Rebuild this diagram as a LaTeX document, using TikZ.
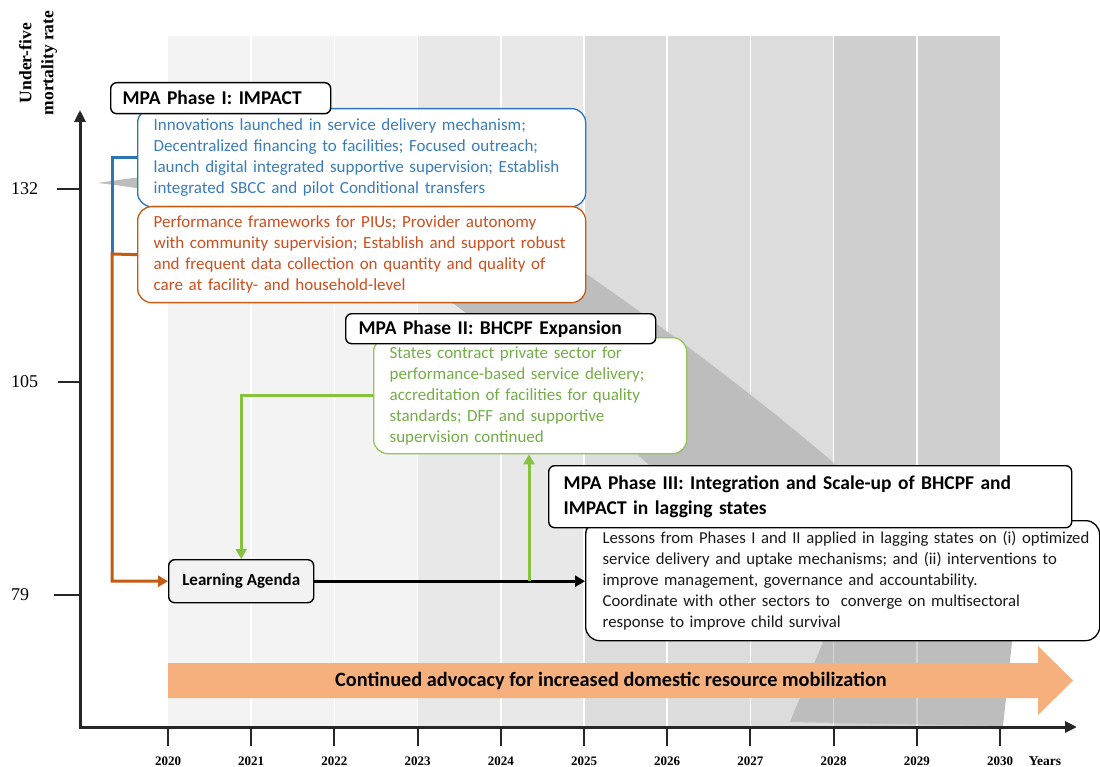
\documentclass[tikz,border=0pt]{standalone}
\usepackage{fontspec}
\newfontfamily\carlito{Carlito}
\newfontfamily\tnr{Liberation Serif}
\usetikzlibrary{arrows.meta}
\definecolor{bluec}{HTML}{2E75B6}
\definecolor{bluet}{HTML}{3A7DBA}
\definecolor{orangec}{HTML}{C55A11}
\definecolor{oranget}{HTML}{CC4F1E}
\definecolor{greenc}{HTML}{92C45E}
\definecolor{greent}{HTML}{74AD48}
\definecolor{greena}{HTML}{86C240}
\definecolor{bandA}{HTML}{F3F3F3}
\definecolor{bandB}{HTML}{E8E8E8}
\definecolor{bandC}{HTML}{DCDCDC}
\definecolor{bandD}{HTML}{CFCFCF}
\definecolor{swooshc}{HTML}{BDBDBD}
\definecolor{advo}{HTML}{F5B07E}
\definecolor{axisc}{HTML}{262626}
\begin{document}
\begin{tikzpicture}[x=1pt,y=-1pt,
  hdr/.style={draw=black, fill=white, line width=1.4pt, rounded corners=6pt, anchor=north west,
    align=left, inner ysep=0pt, font=\carlito\bfseries\fontsize{19.5}{25}\selectfont, text=black},
  bodybox/.style={fill=white, line width=1.3pt, rounded corners=14pt, anchor=north west,
    align=left, inner ysep=0pt, font=\carlito\fontsize{17}{21}\selectfont},
  conn/.style={line width=3pt},
  tip/.style={-{Triangle[length=10pt,width=11pt]}},
  yearlab/.style={font=\tnr\bfseries\fontsize{13}{15}\selectfont},
  ticklab/.style={anchor=west, inner sep=0pt, font=\tnr\fontsize{18}{20}\selectfont}
]
\useasboundingbox (0,0) rectangle (1100,767);
\fill[white] (0,0) rectangle (1100,767);

% background year bands
\foreach \k/\c in {0/bandA,1/bandA,2/bandA,3/bandB,4/bandB,5/bandC,6/bandC,7/bandC,8/bandD,9/bandD}
  \fill[\c] ({168+83.2*\k},36) rectangle ({168+83.2*(\k+1)},727);
\foreach \k in {1,...,9}
  \draw[white, line width=1.6pt] ({168+83.2*\k},36) -- ({168+83.2*\k},727);

% grey declining swoosh
\fill[swooshc] (98,183) .. controls (300,150) and (480,200) .. (585,273)
  .. controls (700,353) and (900,500) .. (1012,642) -- (1003,726) -- (790,722) -- (823,642)
  .. controls (740,540) and (560,380) .. (455,305)
  .. controls (330,220) and (180,192) .. (98,183) -- cycle;
\foreach \k in {8,9}
  \draw[white, line width=1.4pt, opacity=0.35] ({168+83.2*\k},36) -- ({168+83.2*\k},727);

% advocacy arrow
\fill[advo] (168,663) -- (1038,663) -- (1038,646) -- (1073,680.5) -- (1038,715) -- (1038,698) -- (168,698) -- cycle;
\node[font=\carlito\bfseries\fontsize{20.3}{24}\selectfont] (adv) at (611,681) {Continued advocacy for increased domestic resource mobilization};

% axes
\coordinate (O) at (80,727);
\coordinate (ytop) at (80,110);
\coordinate (xend) at (1077,727);
\draw[axisc, line width=3pt, -{Triangle[length=12pt,width=11pt]}] (O) -- (ytop);
\draw[axisc, line width=3pt, -{Triangle[length=12pt,width=11pt]}] (78.5,727) -- (xend);
\node[rotate=90, align=center, font=\tnr\bfseries\fontsize{17.5}{22}\selectfont] (ylab) at (38,63) {Under-five\\mortality rate};
\foreach \v/\yy/\xs in {132/189/57,105/382/58,79/595/54} {
  \draw[axisc, line width=2pt] (\xs,\yy) -- (80,\yy);
  \node[ticklab] (t\v) at (11,\yy) {\v};
}
\foreach \k in {0,...,10} {
  \draw[axisc, line width=2pt] ({168+83.2*\k},727) -- ({168+83.2*\k},746);
  \pgfmathtruncatemacro{\yr}{2020+\k}
  \node[yearlab] (yr\k) at ({168+83.2*\k},761) {\yr};
}
\node[font=\tnr\bfseries\fontsize{13.5}{15}\selectfont] (years) at (1045,761) {Years};

% Phase I
\node[bodybox, draw=bluec, text=bluet, minimum width=448pt, minimum height=98pt, inner xsep=16pt, text width=416pt] (blue) at (137,108)
  {\mbox{Innovations launched in service delivery mechanism;}\\ \mbox{Decentralized financing to facilities; Focused outreach;}\\ \mbox{launch digital integrated supportive supervision; Establish}\\ \mbox{integrated SBCC and pilot Conditional transfers}};
\node[bodybox, draw=orangec, text=oranget, minimum width=448pt, minimum height=96pt, inner xsep=16pt, text width=416pt] (orange) at (137,206)
  {\mbox{Performance frameworks for PIUs; Provider autonomy}\\ \mbox{with community supervision; Establish and support robust}\\ \mbox{and frequent data collection on quantity and quality of}\\ \mbox{care at facility- and household-level}};
\node[hdr, minimum width=220pt, minimum height=31pt, inner xsep=12pt, text width=196pt] (h1) at (110,82) {MPA Phase I: IMPACT};

% Phase II
\node[bodybox, draw=greenc, text=greent, minimum width=313pt, minimum height=116pt, inner xsep=16pt, text width=281pt] (green) at (373,337)
  {\mbox{States contract private sector for}\\ \mbox{performance-based service delivery;}\\ \mbox{accreditation of facilities for quality}\\ \mbox{standards; DFF and supportive}\\ \mbox{supervision continued}};
\node[hdr, minimum width=310pt, minimum height=30pt, inner xsep=13pt, text width=284pt] (h2) at (345,313) {MPA Phase II: BHCPF Expansion};

% Phase III
\node[bodybox, draw=black, text=black!90, minimum width=514pt, minimum height=120pt, inner xsep=17pt, text width=480pt,
  font=\carlito\fontsize{16.7}{21}\selectfont] (p3) at (585,520)
  {\mbox{Lessons from Phases I and II applied in lagging states on (i) optimized}\\ \mbox{service delivery and uptake mechanisms; and (ii) interventions to}\\ \mbox{improve management, governance and accountability.}\\ \mbox{Coordinate with other sectors to\ \ converge on multisectoral}\\ \mbox{response to improve child survival}};
\node[hdr, minimum width=523pt, minimum height=62pt, inner xsep=15pt, text width=493pt] (h3) at (548,465)
  {\mbox{MPA Phase III: Integration and Scale-up of BHCPF and}\\ IMPACT in lagging states};

% Learning agenda
\node[draw=black, fill=black!5, line width=1.4pt, rounded corners=6pt, anchor=north west, minimum width=145pt, minimum height=43pt, inner sep=0pt,
  font=\carlito\bfseries\fontsize{17}{20}\selectfont] (la) at (168,559) {Learning Agenda};

% connectors
\coordinate (corner) at (112,254);
\draw[conn, bluec] (blue.west) -| (corner);
\draw[conn, orangec, tip] (orange.west) -- (corner) |- (la.west);
\draw[conn, greena, tip] (green.west) -| (la.north);
\draw[conn, black, tip] (la.east) -- (la.east -| p3.west);
\coordinate (gj) at (529,580.5);
\draw[conn, greena, tip] (gj) -- (gj |- green.south);
\end{tikzpicture}
\end{document}
